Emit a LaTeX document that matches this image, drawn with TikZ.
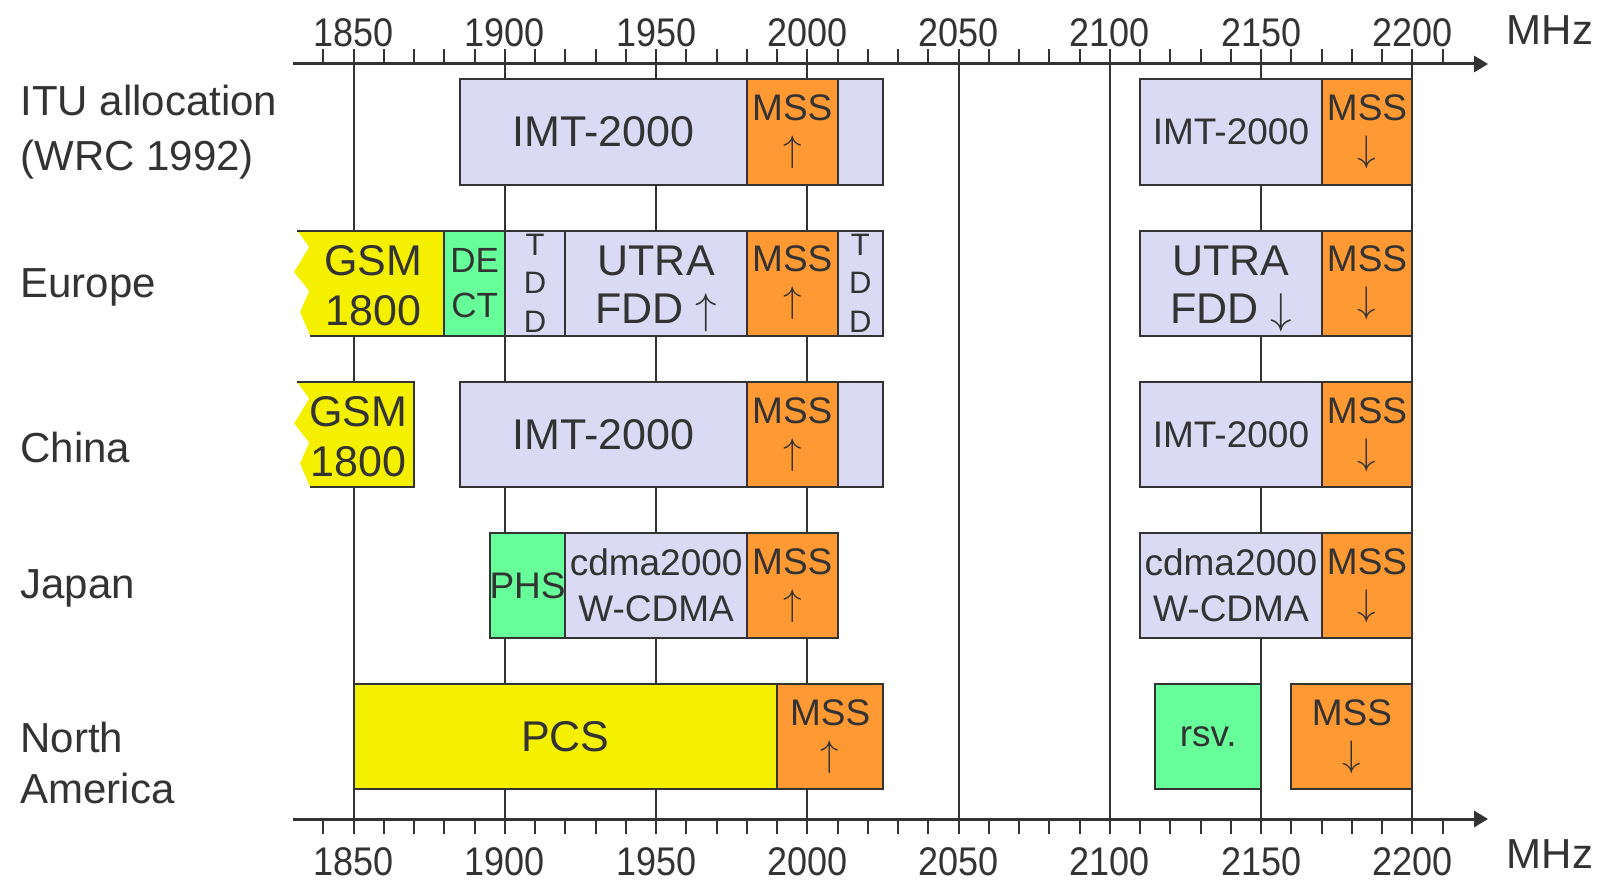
\RequirePackage{fix-cm}
\documentclass[tikz,border=0pt]{standalone}
\usepackage{fontspec}
\setmainfont{Liberation Sans}
\newfontfamily\narrowsans[FakeStretch=0.9]{Liberation Sans}
\usepackage{xcolor}
\usetikzlibrary{arrows.meta}

\definecolor{imtblue}{RGB}{218,218,244}
\definecolor{mssorange}{RGB}{255,153,51}
\definecolor{gsmyellow}{RGB}{244,240,0}
\definecolor{dectgreen}{RGB}{102,255,153}
\definecolor{linegray}{RGB}{51,51,51}

\tikzset{
  band/.style={draw=linegray,line width=1pt},
  imt/.style={band,fill=imtblue},
  mss/.style={band,fill=mssorange},
  gsm/.style={band,fill=gsmyellow},
  dect/.style={band,fill=dectgreen},
  grid/.style={draw=linegray,line width=1pt},
  axis/.style={draw=linegray,line width=1.5pt},
  big/.style={text=linegray,align=center,inner sep=0pt,font=\fontsize{21.5}{25}\selectfont},
  utra/.style={big,yshift=-3pt,font=\fontsize{21.5}{24}\selectfont},
  mid/.style={text=linegray,align=center,inner sep=0pt,font=\fontsize{18.5}{23}\selectfont},
  arr/.style={text=linegray,align=center,inner sep=0pt,font=\fontsize{18.5}{20.5}\selectfont},
  dectf/.style={text=linegray,align=center,inner sep=0pt,font=\fontsize{17.5}{22.5}\selectfont},
  tddf/.style={text=linegray,align=center,inner sep=0pt,font=\fontsize{15.5}{19.2}\selectfont},
  axlbl/.style={text=linegray,anchor=base,inner sep=0pt,font=\narrowsans\fontsize{20}{22}\selectfont},
  rowlbl/.style={text=linegray,anchor=base west,inner sep=0pt,font=\fontsize{21}{27.5}\selectfont}
}

% one band: [text style]{fill style}{name}{from MHz}{to MHz}{row top}{text}
\newcommand\band[7][big]{%
  \draw[#2] (#4,#6) rectangle (#5,#6+105);
  \node[#1] (#3) at ({(#4+#5)/2},#6+52.5) {#7};}

\begin{document}
\begin{tikzpicture}[x=1.5125pt,y=-0.5pt,>={Triangle[length=7pt,width=8pt]}]
	\useasboundingbox (1733.11,0) rectangle (2261.37,883);
	
	% grid lines every 50 MHz
	\foreach \f in {1850,1900,...,2200}
		\draw[grid] (\f,64) -- (\f,819);
	
	% frequency axes
	\draw[axis,->] (1830,64) -- (2225,64);
	\draw[axis,->] (1830,819) -- (2225,819);
	\foreach \f in {1840,1850,...,2210} {
		\draw[grid] (\f,64) -- (\f,49);
		\draw[grid] (\f,819) -- (\f,834);
	}
	\foreach \f in {1850,1900,...,2200} {
		\node[axlbl] (top\f) at (\f,47) {\f};
		\node[axlbl] (bot\f) at (\f,875) {\f};
	}
	\node[rowlbl,anchor=base] (mhztop) at (2245.5,45) {MHz};
	\node[rowlbl,anchor=base] (mhzbot) at (2245.5,868) {MHz};
	
	% row labels
	\node[rowlbl] (ituA) at (1739.7,115) {ITU allocation};
	\node[rowlbl] (ituB) at (1739.7,170) {(WRC 1992)};
	\node[rowlbl] (eu) at (1739.7,297.5) {Europe};
	\node[rowlbl] (cn) at (1739.7,462.5) {China};
	\node[rowlbl] (jp) at (1739.7,598) {Japan};
	\node[rowlbl] (naA) at (1739.7,752) {North};
	\node[rowlbl] (naB) at (1739.7,803) {America};
	
	% ITU allocation
	\band{imt}{itu-imt}{1885}{1980}{79.5}{IMT-2000}
	\band[arr]{mss}{itu-mss}{1980}{2010}{79.5}{MSS\\$\uparrow$}
	\band{imt}{itu-rest}{2010}{2025}{79.5}{}
	\band[mid]{imt}{itu-imt2}{2110}{2170}{79.5}{IMT-2000}
	\band[arr]{mss}{itu-mss2}{2170}{2200}{79.5}{MSS\\$\downarrow$}
	
	% GSM 1800 with torn left edge (Europe, China)
	\foreach \t/\r/\n in {230.5/1880/eu-gsm,382/1870/cn-gsm} {
		\fill[gsmyellow] (1831.3,\t) -- (1835.3,\t+16.5) -- (1830.3,\t+41.5)
			-- (1835.3,\t+60.5) -- (1832.3,\t+81.5) -- (1835.6,\t+105)
			-- (\r,\t+105) -- (\r,\t) -- cycle;
		\draw[band] (1831.3,\t) -- (\r,\t) -- (\r,\t+105) -- (1835.6,\t+105);
		\node[big] (\n) at ({(1833+\r)/2},\t+55) {GSM\\1800};
	}
	
	% Europe
	\band[dectf]{dect}{eu-dect}{1880}{1900}{230.5}{DE\\CT}
	\band[tddf]{imt}{eu-tdd}{1900}{1920}{230.5}{T\\D\\D}
	\band[utra]{imt}{eu-utra}{1920}{1980}{230.5}{UTRA\\FDD $\uparrow$}
	\band[arr]{mss}{eu-mss}{1980}{2010}{230.5}{MSS\\$\uparrow$}
	\band[tddf]{imt}{eu-tdd2}{2010}{2025}{230.5}{T\\D\\D}
	\band[utra]{imt}{eu-utra2}{2110}{2170}{230.5}{UTRA\\FDD $\downarrow$}
	\band[arr]{mss}{eu-mss2}{2170}{2200}{230.5}{MSS\\$\downarrow$}
	
	% China
	\band{imt}{cn-imt}{1885}{1980}{382}{IMT-2000}
	\band[arr]{mss}{cn-mss}{1980}{2010}{382}{MSS\\$\uparrow$}
	\band{imt}{cn-rest}{2010}{2025}{382}{}
	\band[mid]{imt}{cn-imt2}{2110}{2170}{382}{IMT-2000}
	\band[arr]{mss}{cn-mss2}{2170}{2200}{382}{MSS\\$\downarrow$}
	
	% Japan
	\band[mid]{dect}{jp-phs}{1895}{1920}{533}{PHS}
	\band[mid]{imt}{jp-cdma}{1920}{1980}{533}{cdma2000\\W-CDMA}
	\band[arr]{mss}{jp-mss}{1980}{2010}{533}{MSS\\$\uparrow$}
	\band[mid]{imt}{jp-cdma2}{2110}{2170}{533}{cdma2000\\W-CDMA}
	\band[arr]{mss}{jp-mss2}{2170}{2200}{533}{MSS\\$\downarrow$}
	
	% North America
	\band{gsm}{na-pcs}{1850}{1990}{684}{PCS}
	\band[arr]{mss}{na-mss}{1990}{2025}{684}{MSS\\$\uparrow$}
	\band[mid]{dect}{na-rsv}{2115}{2150}{684}{rsv.}
	\band[arr]{mss}{na-mss2}{2160}{2200}{684}{MSS\\$\downarrow$}
	
\end{tikzpicture}
\end{document}
